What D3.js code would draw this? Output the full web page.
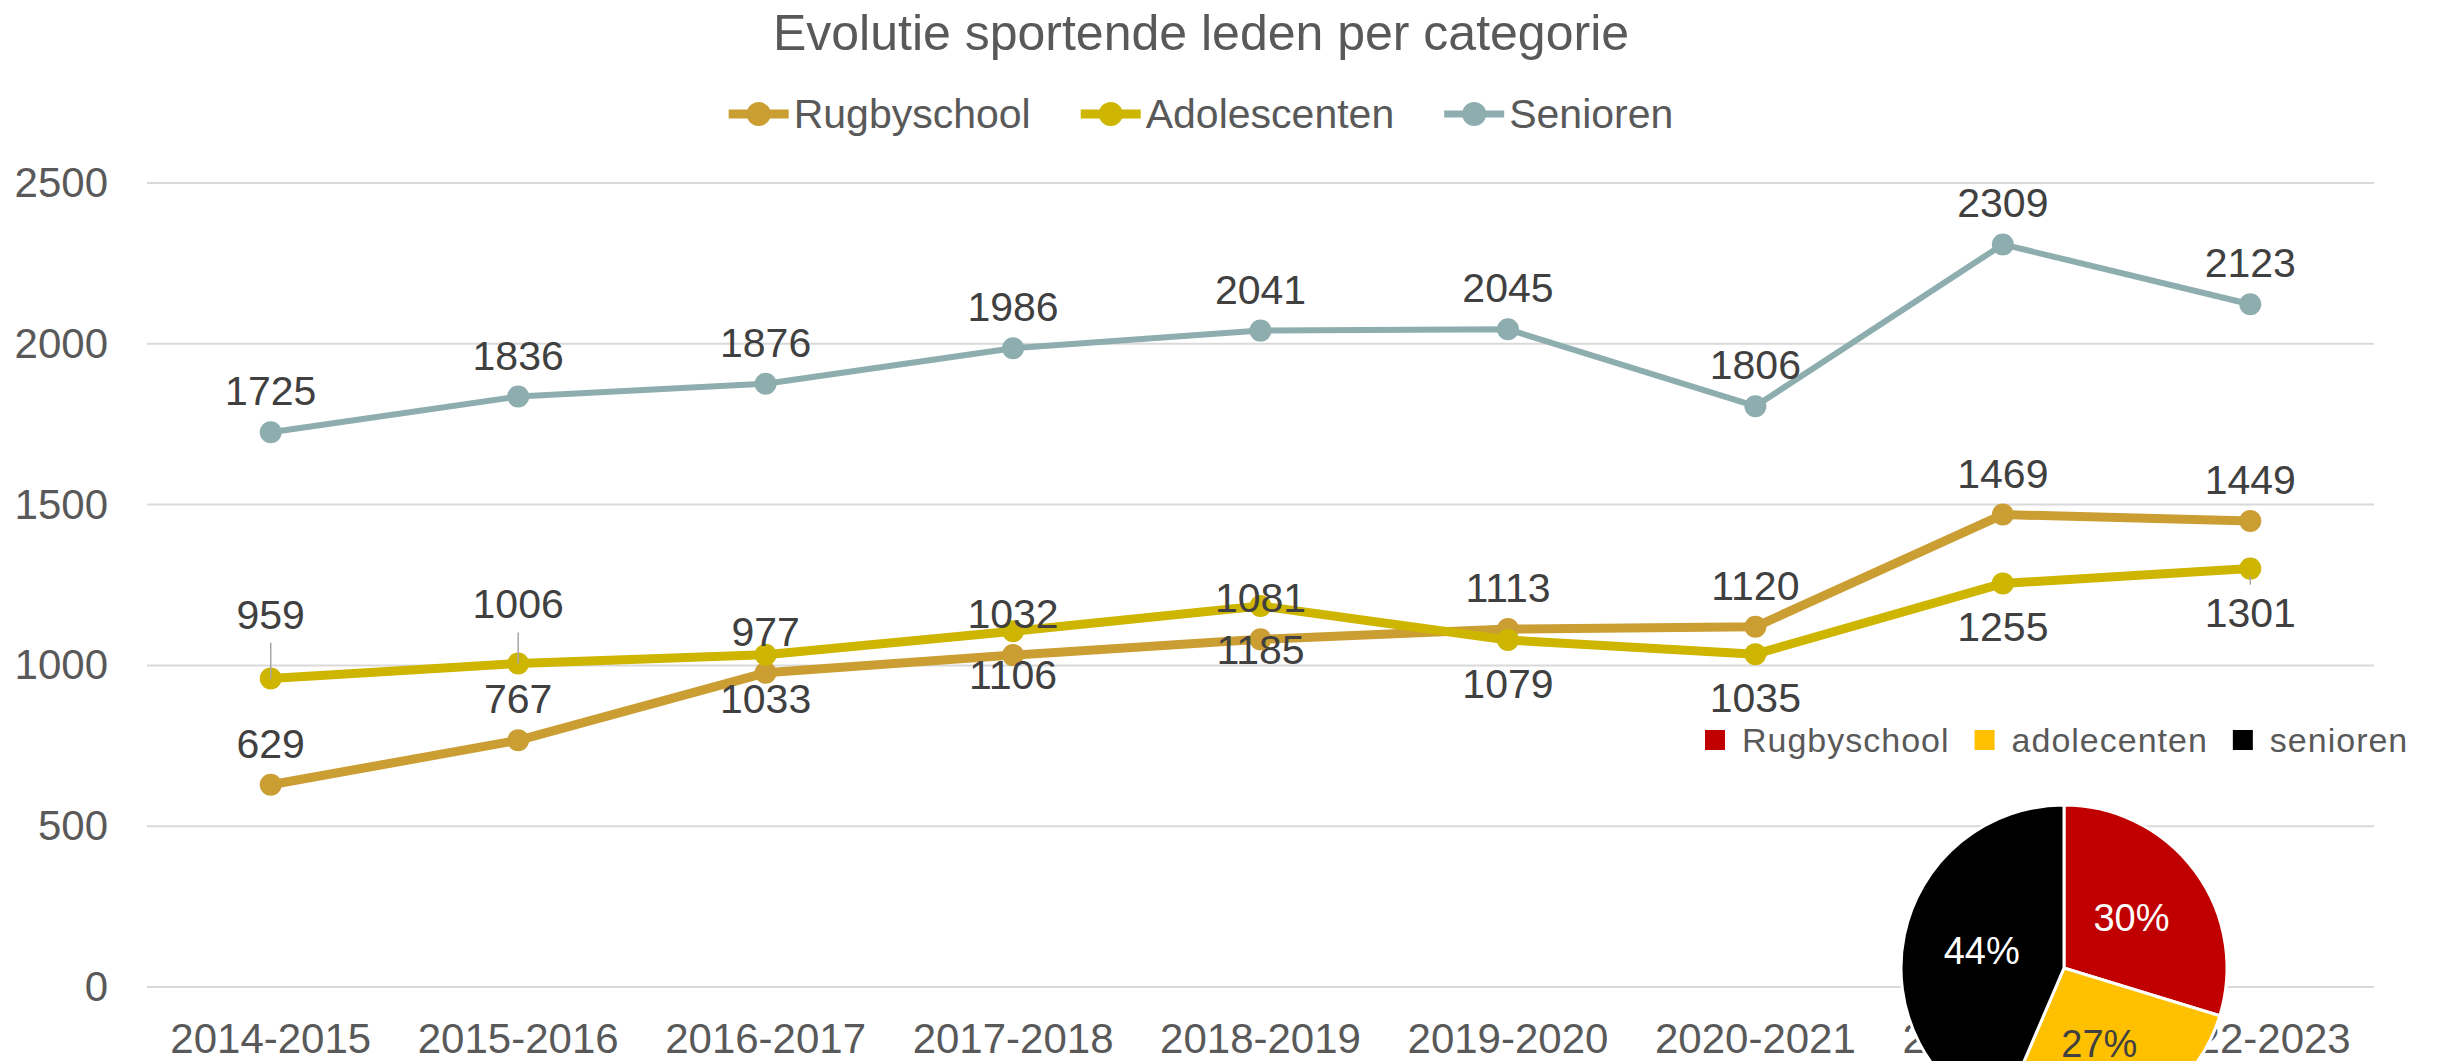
<!DOCTYPE html>
<html>
<head>
<meta charset="utf-8">
<script src="https://cdn.jsdelivr.net/npm/d3@7"></script>
<style>
	body { margin: 0; background: #fff; }
	text { font-family: "Liberation Sans", Arial, sans-serif; }
</style>
</head>
<body>
<script>
// categories and series values
var seasons = ["2014-2015", "2015-2016", "2016-2017", "2017-2018", "2018-2019",
	"2019-2020", "2020-2021", "2021-2022", "2022-2023"];
var rugbyschool = [629, 767, 977, 1032, 1081, 1113, 1120, 1469, 1449];
var adolescenten = [959, 1006, 1033, 1106, 1185, 1079, 1035, 1255, 1301];
var senioren = [1725, 1836, 1876, 1986, 2041, 2045, 1806, 2309, 2123];
var yTicks = [0, 500, 1000, 1500, 2000, 2500];

var seriesNames = ["Rugbyschool", "Adolescenten", "Senioren"];
var seriesColors = ["#CA9E33", "#CDB500", "#8DADAE"];

// small pie: last season
var pieNames = ["Rugbyschool", "adolecenten", "senioren"];
var pieValues = [1449, 1301, 2123];
var pieColors = ["#C00000", "#FFC000", "#000000"];

// Global variables
var width = 2438,
	height = 1061,
	svg,
	x,
	y;

function init() {
	svg = d3.select("body")
		.append("svg")
		.attr("width", width)
		.attr("height", height);

	x = d3.scaleBand()
		.domain(seasons)
		.range([147, 2374]);

	y = d3.scaleLinear()
		.domain([0, 2500])
		.range([987, 183]);

	drawAxes();
	drawLines();
	drawTitle();
	drawLegend();
	drawPie();
}

function drawAxes() {
	// gridlines
	svg.append("g")
		.selectAll("line")
		.data(yTicks)
		.enter().append("line")
		.attr("x1", x.range()[0])
		.attr("x2", x.range()[1])
		.attr("y1", function(d) { return y(d); })
		.attr("y2", function(d) { return y(d); })
		.attr("stroke", "#D9D9D9")
		.attr("stroke-width", 2);

	var yAxis = svg.append("g")
		.attr("transform", "translate(147,0)")
		.call(d3.axisLeft(y)
			.tickValues(yTicks)
			.tickFormat(d3.format("d"))
			.tickSize(0)
			.tickPadding(39));
	yAxis.select(".domain").remove();
	yAxis.selectAll("text")
		.attr("font-size", 42)
		.attr("font-family", "Liberation Sans, Arial, sans-serif")
		.attr("fill", "#595959");

	var xAxis = svg.append("g")
		.attr("transform", "translate(0,987)")
		.call(d3.axisBottom(x).tickSize(0).tickPadding(36));
	xAxis.select(".domain").remove();
	xAxis.selectAll("text")
		.attr("font-size", 42)
		.attr("font-family", "Liberation Sans, Arial, sans-serif")
		.attr("fill", "#595959");
}

function labelDy(name, i) {
	// adolescenten labels sit below the line, except the first two
	if (name == "Adolescenten") {
		if (i == 0) return -50;
		if (i == 1) return -45;
		return 58;
	}
	return -27;
}

function drawLines() {
	var series = [rugbyschool, adolescenten, senioren].map(function(v, k) {
		return { name: seriesNames[k], values: v, color: seriesColors[k], w: k == 2 ? 6 : 9 };
	});

	var cx = function(d, i) { return x(seasons[i]) + x.bandwidth() / 2; };

	var line = d3.line()
		.x(cx)
		.y(function(d) { return y(d); });

	series.forEach(function(s) {
		var g = svg.append("g").attr("class", "series");

		g.append("path")
			.datum(s.values)
			.attr("d", line)
			.attr("fill", "none")
			.attr("stroke", s.color)
			.attr("stroke-width", s.w)
			.attr("stroke-linejoin", "round");

		g.selectAll("circle")
			.data(s.values)
			.enter().append("circle")
			.attr("cx", cx)
			.attr("cy", function(d) { return y(d); })
			.attr("r", 11)
			.attr("fill", s.color);
	});

	// data labels on top of everything
	series.forEach(function(s) {
		var g = svg.append("g").attr("class", "labels");

		if (s.name == "Adolescenten") {
			// leader lines for the labels that were moved
			var moved = [0, 1, 8];
			g.selectAll("line")
				.data(moved)
				.enter().append("line")
				.attr("x1", function(i) { return cx(null, i); })
				.attr("x2", function(i) { return cx(null, i); })
				.attr("y1", function(i) {
					var v = s.values[i];
					return i < 2 ? y(v) + labelDy(s.name, i) + 14 : y(v) + 8;
				})
				.attr("y2", function(i) {
					var v = s.values[i];
					return i < 2 ? y(v) : y(v) + 16;
				})
				.attr("stroke", "#A6A6A6")
				.attr("stroke-width", 1.5);
		}

		g.selectAll("text")
			.data(s.values)
			.enter().append("text")
			.attr("x", cx)
			.attr("y", function(d, i) { return y(d) + labelDy(s.name, i); })
			.attr("text-anchor", "middle")
			.attr("font-size", 41)
			.attr("fill", "#404040")
			.text(function(d) { return d; });
	});
}

function drawTitle() {
	svg.append("text")
		.attr("x", 1201)
		.attr("y", 50)
		.attr("text-anchor", "middle")
		.attr("font-size", 50)
		.attr("fill", "#595959")
		.text("Evolutie sportende leden per categorie");
}

function drawLegend() {
	var legend = svg.append("g");
	var pos = 0;

	seriesNames.forEach(function(name, k) {
		var item = legend.append("g").attr("transform", "translate(" + pos + ",0)");
		item.append("line")
			.attr("x1", 0).attr("x2", 60)
			.attr("y1", 0).attr("y2", 0)
			.attr("stroke", seriesColors[k])
			.attr("stroke-width", k == 2 ? 7 : 9);
		item.append("circle")
			.attr("cx", 30).attr("cy", 0).attr("r", 12)
			.attr("fill", seriesColors[k]);
		var t = item.append("text")
			.attr("x", 65)
			.attr("y", 14)
			.attr("font-size", 41)
			.attr("fill", "#595959")
			.text(name);
		pos += 65 + t.node().getComputedTextLength() + 50;
	});

	var total = pos - 50;
	legend.attr("transform", "translate(" + (1201 - total / 2) + ",114)");
}

function drawPie() {
	var r = 163;
	var pie = d3.pie().sort(null)(pieValues);
	var arc = d3.arc().innerRadius(0).outerRadius(r);
	var total = d3.sum(pieValues);

	var g = svg.append("g").attr("transform", "translate(2064,968)");

	g.selectAll("path")
		.data(pie)
		.enter().append("path")
		.attr("d", arc)
		.attr("fill", function(d, i) { return pieColors[i]; })
		.attr("stroke", "#fff")
		.attr("stroke-width", 3);

	g.selectAll("text")
		.data(pie)
		.enter().append("text")
		.attr("transform", function(d) {
			var c = arc.centroid(d);
			return "translate(" + (c[0] * 1.03) + "," + (c[1] * 1.03) + ")";
		})
		.attr("dy", "0.35em")
		.attr("text-anchor", "middle")
		.attr("font-family", "Open Sans, sans-serif")
		.attr("font-size", 38)
		.attr("fill", function(d, i) { return i == 1 ? "#404040" : "#fff"; })
		.text(function(d) { return Math.round(d.value / total * 100) + "%"; });

	// legend of the pie
	var legend = svg.append("g").attr("transform", "translate(1705,740)");
	var pos = 0;
	pieNames.forEach(function(name, i) {
		legend.append("rect")
			.attr("x", pos).attr("y", -10)
			.attr("width", 20).attr("height", 20)
			.attr("fill", pieColors[i]);
		var t = legend.append("text")
			.attr("x", pos + 37)
			.attr("y", 12)
			.attr("font-family", "Open Sans, sans-serif")
			.attr("font-size", 34)
			.attr("letter-spacing", 1)
			.attr("fill", "#595959")
			.text(name);
		pos += 37 + t.node().getComputedTextLength() + 25;
	});
}

window.onload = init;
</script>
</body>
</html>
